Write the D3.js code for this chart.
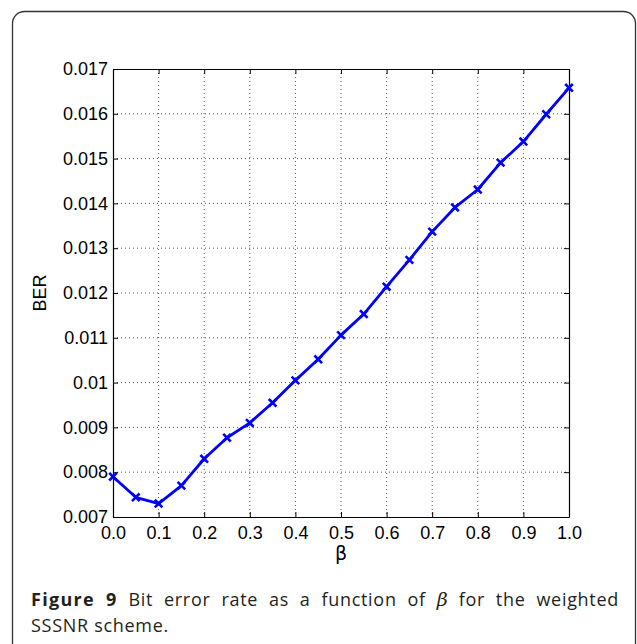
<!DOCTYPE html>
<html>
<head>
<meta charset="utf-8">
<script src="https://cdn.jsdelivr.net/npm/d3@7"></script>
<style>
  html, body { margin: 0; padding: 0; background: #fff; }
  svg { display: block; }
</style>
</head>
<body>
<svg id="chart" width="637" height="644"></svg>
<script>
// BER measured for each weighting factor beta
const betaValues = [0.0, 0.05, 0.1, 0.15, 0.2, 0.25, 0.3, 0.35, 0.4, 0.45, 0.5,
                    0.55, 0.6, 0.65, 0.7, 0.75, 0.8, 0.85, 0.9, 0.95, 1.0];
const berValues = [0.00790, 0.00744, 0.00730, 0.00770, 0.00830, 0.00877, 0.00910,
                   0.00955, 0.01005, 0.01052, 0.01106, 0.01153, 0.01214, 0.01274,
                   0.01337, 0.01391, 0.01431, 0.01491, 0.01538, 0.01599, 0.01658];
const xTicks = [0, 0.1, 0.2, 0.3, 0.4, 0.5, 0.6, 0.7, 0.8, 0.9, 1.0];
const yTicks = [0.007, 0.008, 0.009, 0.010, 0.011, 0.012, 0.013, 0.014, 0.015, 0.016, 0.017];
const yTickLabels = ["0.007", "0.008", "0.009", "0.01", "0.011", "0.012",
                     "0.013", "0.014", "0.015", "0.016", "0.017"];
const xLabel = "β";
const yLabel = "BER";
const captionBold = "Figure 9";
const captionLine1 = "Bit error rate as a function of";
const captionGreek = "β";
const captionLine1End = "for the weighted";
const captionLine2 = "SSSNR scheme.";

const svg = d3.select("#chart");
const plot = { left: 113, top: 69, right: 569, bottom: 517 };
const axisFont = "'Liberation Sans', Arial, Helvetica, sans-serif";

// outer rounded panel
svg.append("rect")
  .attr("x", 12.5).attr("y", 11.5)
  .attr("width", 623).attr("height", 660)
  .attr("rx", 12).attr("ry", 12)
  .attr("fill", "#fff").attr("stroke", "#333").attr("stroke-width", 1.3);

const x = d3.scaleLinear().domain([0, 1]).range([plot.left, plot.right]);
const y = d3.scaleLinear().domain([0.007, 0.017]).range([plot.bottom, plot.top]);

// dotted grid
const grid = svg.append("g").attr("stroke", "#444").attr("stroke-width", 0.9)
  .attr("stroke-dasharray", "1 3");
grid.selectAll("line.vx").data(xTicks.slice(1, -1)).join("line")
  .attr("x1", d => x(d)).attr("x2", d => x(d))
  .attr("y1", plot.top).attr("y2", plot.bottom);
grid.selectAll("line.hy").data(yTicks.slice(1, -1)).join("line")
  .attr("y1", d => y(d)).attr("y2", d => y(d))
  .attr("x1", plot.left).attr("x2", plot.right);

// axes with inward ticks on all four sides
const tickLen = 5;
const fmtY = d => yTickLabels[yTicks.indexOf(d)];
const fmtX = d => d3.format(".1f")(d);

const bottomAxis = svg.append("g").attr("transform", `translate(0,${plot.bottom})`)
  .call(d3.axisBottom(x).tickValues(xTicks).tickFormat(fmtX).tickSizeInner(-tickLen).tickSizeOuter(0).tickPadding(9));
const topAxis = svg.append("g").attr("transform", `translate(0,${plot.top})`)
  .call(d3.axisTop(x).tickValues(xTicks).tickFormat("").tickSizeInner(-tickLen).tickSizeOuter(0));
const leftAxis = svg.append("g").attr("transform", `translate(${plot.left},0)`)
  .call(d3.axisLeft(y).tickValues(yTicks).tickFormat(fmtY).tickSizeInner(-tickLen).tickSizeOuter(0).tickPadding(5));
const rightAxis = svg.append("g").attr("transform", `translate(${plot.right},0)`)
  .call(d3.axisRight(y).tickValues(yTicks).tickFormat("").tickSizeInner(-tickLen).tickSizeOuter(0));

[bottomAxis, topAxis, leftAxis, rightAxis].forEach(g => {
  g.attr("font-family", axisFont).attr("font-size", 18);
  g.selectAll("path.domain").attr("stroke", "#000").attr("stroke-width", 1.2);
  g.selectAll(".tick line").attr("stroke", "#000").attr("stroke-width", 1);
  g.selectAll("text").attr("font-family", axisFont).attr("font-size", 18).attr("fill", "#000");
});
bottomAxis.selectAll("text").attr("dy", "0.71em").attr("y", 9);

// axis titles
svg.append("text")
  .attr("x", (plot.left + plot.right) / 2).attr("y", 560)
  .attr("text-anchor", "middle")
  .attr("font-family", "'DejaVu Sans', 'Liberation Sans', sans-serif")
  .attr("font-size", 19).attr("fill", "#000")
  .text(xLabel);
svg.append("text")
  .attr("transform", `translate(46,${(plot.top + plot.bottom) / 2}) rotate(-90)`)
  .attr("text-anchor", "middle")
  .attr("font-family", axisFont)
  .attr("font-size", 18).attr("fill", "#000")
  .text(yLabel);

// data line and x markers
const pts = betaValues.map((b, i) => [b, berValues[i]]);
svg.append("path")
  .datum(pts)
  .attr("fill", "none").attr("stroke", "#0000ff").attr("stroke-width", 2.8)
  .attr("stroke-linejoin", "round")
  .attr("d", d3.line().x(d => x(d[0])).y(d => y(d[1])));

const m = 3.8;
svg.append("g").selectAll("path").data(pts).join("path")
  .attr("transform", d => `translate(${x(d[0])},${y(d[1])})`)
  .attr("d", `M${-m},${-m}L${m},${m}M${-m},${m}L${m},${-m}`)
  .attr("stroke", "#0000ff").attr("stroke-width", 2.6).attr("fill", "none");

// caption, first line justified between margins
const capFont = "'Open Sans', 'Noto Sans', sans-serif";
const capSize = 18;
const capSpacing = 0.7;
const capColor = "#231f20";
const capLeft = 31, capRight = 619;

const words = [];
captionBold.split(" ").forEach(w => words.push({ t: w, bold: true }));
captionLine1.split(" ").forEach(w => words.push({ t: w }));
words.push({ t: captionGreek, greek: true });
captionLine1End.split(" ").forEach(w => words.push({ t: w }));

const capG = svg.append("g");
const nodes = words.map(w => capG.append("text")
  .attr("y", 606)
  .attr("font-family", w.greek ? "'DejaVu Serif', 'Liberation Serif', serif" : capFont)
  .attr("font-style", w.greek ? "italic" : "normal")
  .attr("font-weight", w.bold ? 700 : 400)
  .attr("font-size", w.greek ? capSize + 1 : capSize)
  .attr("letter-spacing", w.greek ? 0 : (w.bold ? capSpacing + 0.6 : capSpacing))
  .attr("fill", capColor)
  .text(w.t));
const widths = nodes.map(n => n.node().getComputedTextLength());
const total = d3.sum(widths);
const gap = (capRight - capLeft - total) / (nodes.length - 1);
let cx = capLeft;
nodes.forEach((n, i) => { n.attr("x", cx); cx += widths[i] + gap; });

capG.append("text")
  .attr("x", capLeft).attr("y", 632)
  .attr("font-family", capFont).attr("font-size", capSize)
  .attr("letter-spacing", capSpacing)
  .attr("fill", capColor)
  .text(captionLine2);
</script>
</body>
</html>
